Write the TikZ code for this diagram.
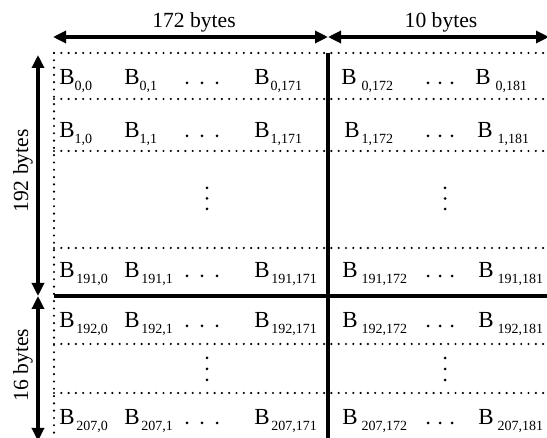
\documentclass[tikz,border=0pt]{standalone}
\usepackage{fontspec}
\setmainfont{Liberation Serif}
\usetikzlibrary{arrows.meta}
\newcommand{\Bcell}[2]{B\hspace{#1}\raisebox{-3pt}{\fontsize{7}{8}\selectfont #2}}
\tikzset{
  cell/.style={anchor=base west, inner sep=0pt, font=\fontsize{11.5}{13}\selectfont},
  gridline/.style={line width=1.2pt, line cap=round, dash pattern=on 0pt off 3.65pt},
  solidline/.style={line width=1.6pt},
  dimarrow/.style={line width=1.6pt, {Triangle[length=6.5pt,width=6pt]}-{Triangle[length=6.5pt,width=6pt]}},
  dimlabel/.style={font=\fontsize{10.8}{12}\selectfont, inner sep=0pt},
  dotmark/.style={fill=black, draw=none}
}
\begin{document}
\begin{tikzpicture}[x=0.5pt,y=-0.5pt]
\useasboundingbox (0,0) rectangle (547,438);
% dimension arrows
\coordinate (tl) at (53,37);
\coordinate (tm) at (328,37);
\coordinate (tr) at (549,37);
\coordinate (vt) at (38,55);
\coordinate (vm) at (38,296);
\coordinate (vb) at (38,441);
\draw[dimarrow] (tl) -- (tm);
\draw[dimarrow] (tm) -- (tr);
\draw[dimarrow] (vt) -- (vm);
\draw[dimarrow] (vm) -- (vb);
\node[dimlabel, anchor=base] (l172) at (194,28) {172 bytes};
\node[dimlabel, anchor=base] (l10) at (441,28) {10 bytes};
\node[dimlabel, anchor=base, rotate=90] (l192) at (28,171) {192 bytes};
\node[dimlabel, anchor=base, rotate=90] (l16) at (28,365) {16 bytes};
% grid
\foreach \yy in {53,99,151,248,344,393} \draw[gridline] (54,\yy) -- (547,\yy);
\draw[gridline] (54,53) -- (54,438);
\draw[solidline] (54,296) -- (547,296);
\draw[solidline] (328,53) -- (328,438);
% row 0
\node[cell] (b00) at (59,85) {\Bcell{0pt}{0,0}};
\node[cell] (b01) at (124,85) {\Bcell{0pt}{0,1}};
\node[cell] (b0171) at (254,85) {\Bcell{0.4pt}{0,171}};
\node[cell] (b0172) at (341,85) {\Bcell{2.5pt}{0,172}};
\node[cell] (b0181) at (475,85) {\Bcell{2.5pt}{0,181}};
% row 1
\node[cell] (b10) at (59,138) {\Bcell{0pt}{1,0}};
\node[cell] (b11) at (124,138) {\Bcell{0pt}{1,1}};
\node[cell] (b1171) at (254,138) {\Bcell{0.4pt}{1,171}};
\node[cell] (b1172) at (344,138) {\Bcell{1pt}{1,172}};
\node[cell] (b1181) at (477,138) {\Bcell{2.5pt}{1,181}};
% row 191
\node[cell] (b1910) at (59,278) {\Bcell{0.8pt}{191,0}};
\node[cell] (b1911) at (124,278) {\Bcell{0.8pt}{191,1}};
\node[cell] (b191171) at (254,278) {\Bcell{0.8pt}{191,171}};
\node[cell] (b191172) at (342,278) {\Bcell{2pt}{191,172}};
\node[cell] (b191181) at (478,278) {\Bcell{2pt}{191,181}};
% row 192
\node[cell] (b1920) at (59,328) {\Bcell{0.8pt}{192,0}};
\node[cell] (b1921) at (124,328) {\Bcell{0.8pt}{192,1}};
\node[cell] (b192171) at (254,328) {\Bcell{0.8pt}{192,171}};
\node[cell] (b192172) at (342,328) {\Bcell{2pt}{192,172}};
\node[cell] (b192181) at (478,328) {\Bcell{2pt}{192,181}};
% row 207
\node[cell] (b2070) at (59,425) {\Bcell{0.8pt}{207,0}};
\node[cell] (b2071) at (124,425) {\Bcell{0.8pt}{207,1}};
\node[cell] (b207171) at (254,425) {\Bcell{0.8pt}{207,171}};
\node[cell] (b207172) at (342,425) {\Bcell{2pt}{207,172}};
\node[cell] (b207181) at (478,425) {\Bcell{2pt}{207,181}};
% horizontal ellipses
\foreach \yy in {83,136,276,326,423} {
  \foreach \xx in {187,202,217} \fill[dotmark] (\xx,\yy) circle (0.75pt);
  \foreach \xx in {428,440,452} \fill[dotmark] (\xx,\yy) circle (0.75pt);
}
% vertical ellipses
\foreach \yy in {188,198.5,209,358,369,380} {
  \fill[dotmark] (207,\yy) circle (0.75pt);
  \fill[dotmark] (445,\yy) circle (0.75pt);
}
\end{tikzpicture}
\end{document}
